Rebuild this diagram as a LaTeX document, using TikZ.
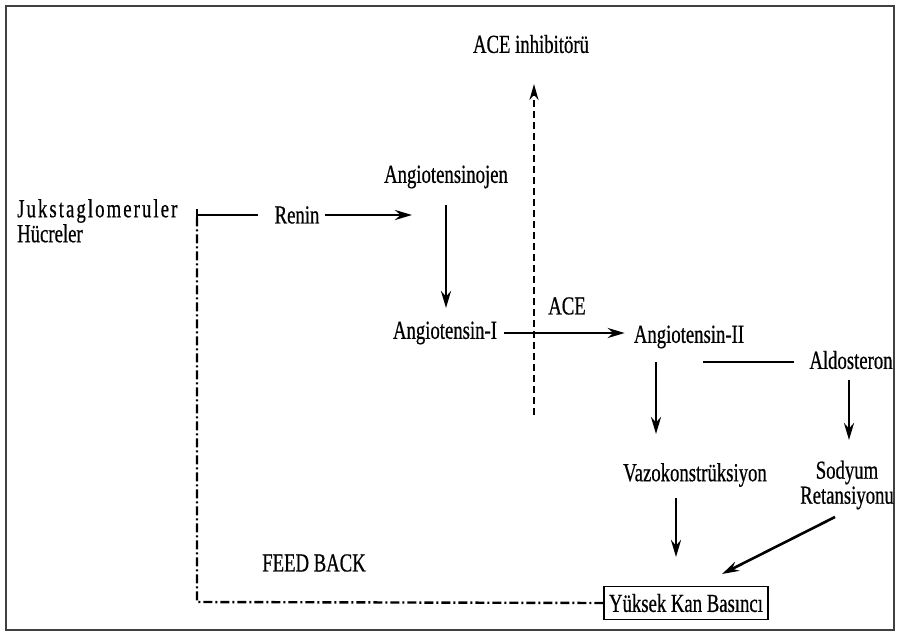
\documentclass[tikz,border=0pt]{standalone}
\usepackage{fontspec}
\setmainfont{Liberation Serif}
\newfontfamily\narrowserif[FakeStretch=0.72, FakeBold=0.6]{Liberation Serif}
\usetikzlibrary{arrows.meta, positioning}
\tikzset{
    lbl/.style={font=\narrowserif\fontsize{26}{25}\selectfont, inner sep=1pt},
    flow/.style={line width=2.6pt, -{Stealth[length=17pt,width=10pt]}},
    plain/.style={line width=2.6pt},
    feedback/.style={line width=2.4pt, dash pattern=on 9pt off 3pt on 2pt off 3pt},
    inhib/.style={line width=2.2pt, dash pattern=on 7pt off 4pt, -{Stealth[length=16pt,width=9pt]}}
}

\begin{document}
\begin{tikzpicture}[x=1pt, y=-1pt]
    \useasboundingbox (0,0) rectangle (899,634);
    % Frame
    \draw[line width=2.2pt, black!75] (6,6) rectangle (894,630);

    % Nodes
    \node[lbl] (aceinh) at (531,44) {ACE inhibitörü};
    \node[lbl, align=left, anchor=north west] (jg) at (16,198)
        {{\addfontfeature{LetterSpace=8}Jukstaglomeruler}\\Hücreler};
    \node[lbl] (renin) at (297,215) {Renin};
    \node[lbl] (ajen) at (446,177) {Angiotensinojen};
    \node[lbl] (a1) at (445,333) {Angiotensin-I};
    \node[lbl] (ace) at (567,306) {ACE};
    \node[lbl] (a2) at (689,337) {Angiotensin-II};
    \node[lbl] (aldo) at (851,360) {Aldosteron};
    \node[lbl] (vazo) at (695,475) {Vazokonstrüksiyon};
    \node[lbl, align=center] (sod) at (847,485) {Sodyum\\Retansiyonu};
    \node[lbl] (fb) at (314,563) {FEED BACK};
    \node[lbl, draw, line width=1.2pt, inner xsep=5pt, inner ysep=7pt] (ykb) at (686,603) {Yüksek Kan Basıncı};

    % Helper points
    \coordinate (fbtop) at (197,215);
    \coordinate (fbcorner) at (197,602);
    \coordinate (inhlow) at (534,415);
    \coordinate (inhtop) at (534,84);

    % Connectors
    \draw[feedback] (ykb.west) -- (fbcorner) -- (fbtop);
    \draw[plain] (fbtop) -- (258,215);
    \draw[plain] ([yshift=-6pt]fbtop) -- ([yshift=6pt]fbtop);
    \draw[flow] ([xshift=4pt]renin.east) -- (412,215);
    \draw[flow] (446,205) -- (446,308);
    \draw[inhib] (inhlow) -- (inhtop);
    \draw[flow] ([xshift=6pt]a1.east) -- ([xshift=-8pt]a2.west |- a1.east);
    \draw[plain] (703,362) -- ([xshift=-14pt]aldo.west |- 0,362);
    \draw[flow] (656,362) -- (656,434);
    \draw[flow] (849,380) -- (849,440);
    \draw[flow] (676,498) -- (676,557);
    \draw[flow] (835,517) -- (722,574);
\end{tikzpicture}
\end{document}
